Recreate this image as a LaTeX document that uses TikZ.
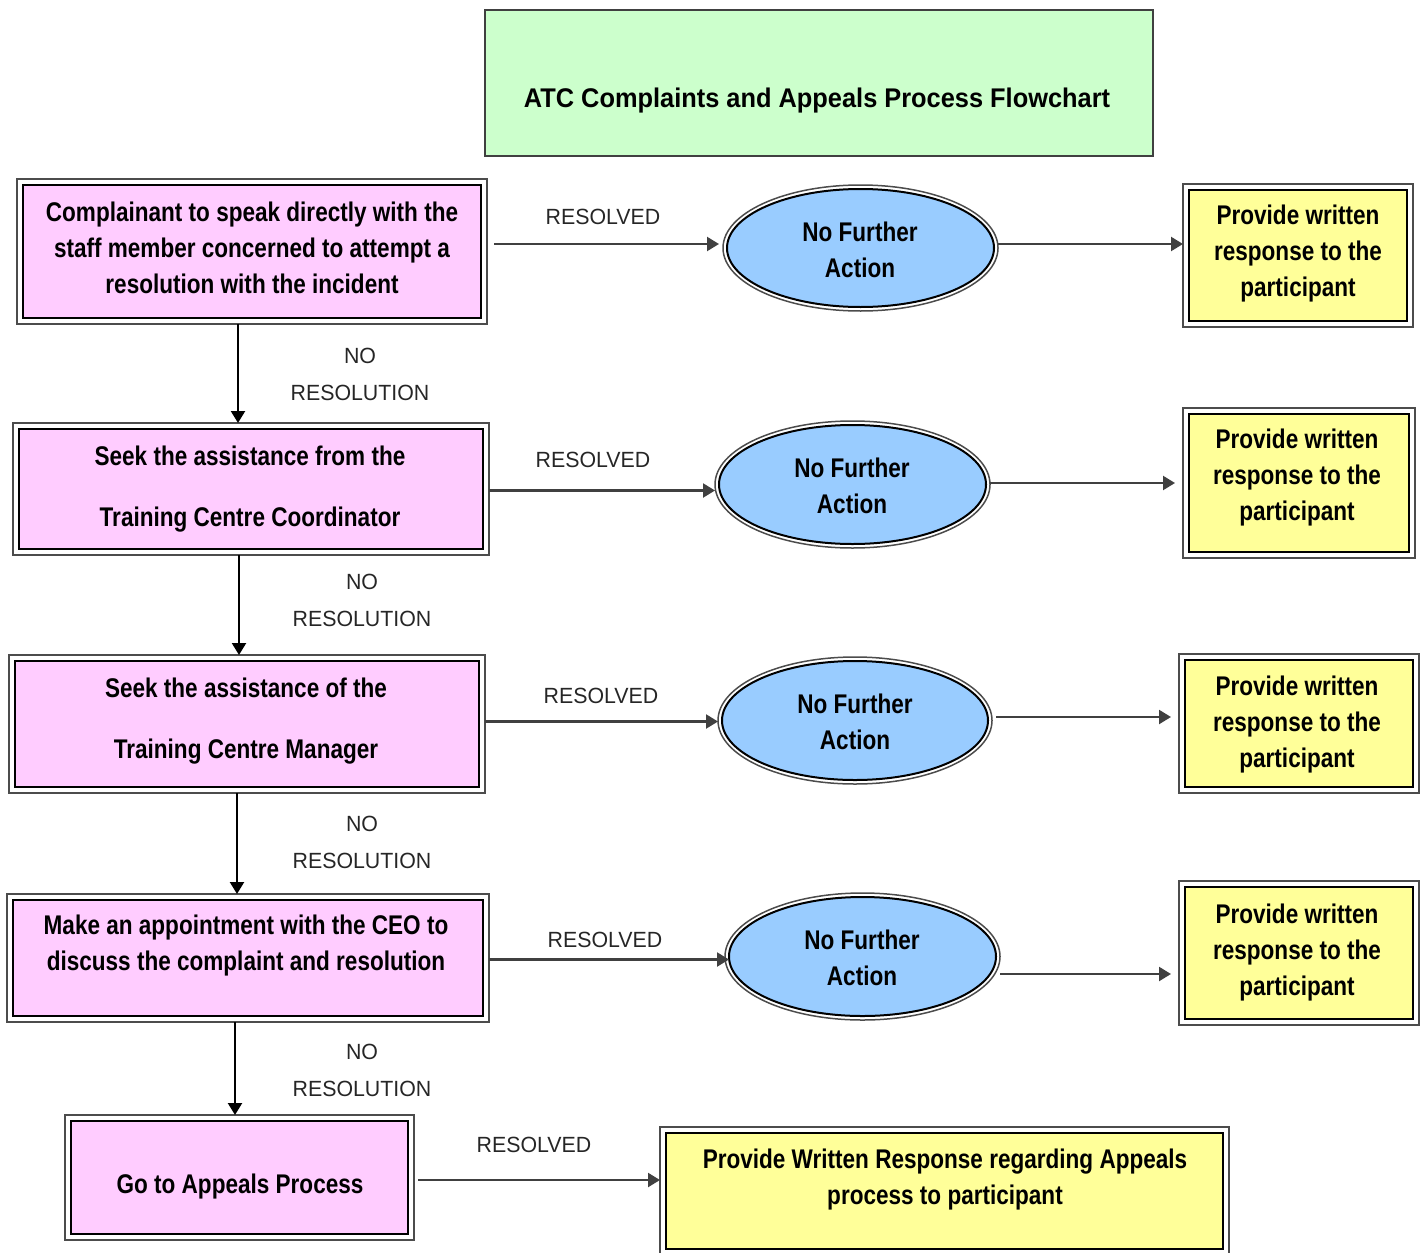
\documentclass[tikz,border=0pt]{standalone}
\usepackage{fontspec}
\setmainfont{Liberation Sans}
\newfontfamily\bodyfont{Liberation Sans Bold}[FakeStretch=0.835]
\newfontfamily\titlefont{Liberation Sans Bold}[FakeStretch=0.94]
\newfontfamily\labelfont{Liberation Sans}[FakeStretch=0.97]
\usetikzlibrary{arrows.meta,shapes.geometric,calc}
\definecolor{pinkfill}{HTML}{FFCCFF}
\definecolor{bluefill}{HTML}{99CCFF}
\definecolor{yellowfill}{HTML}{FFFF99}
\definecolor{greenfill}{HTML}{CCFFCC}
\tikzset{
  frameline/.style={draw=black!70, line width=0.75pt},
  pinkbox/.style={rectangle, draw=black, line width=1.2pt, fill=pinkfill, outer sep=3pt, inner sep=0pt},
  yellowbox/.style={rectangle, draw=black, line width=1.3pt, fill=yellowfill, outer sep=3pt, inner sep=0pt},
  oval/.style={ellipse, draw=black, line width=1pt, fill=bluefill, outer sep=2pt, inner sep=0pt},
  titlebox/.style={rectangle, draw=black!75, line width=0.8pt, fill=greenfill, inner sep=0pt},
  titletext/.style={font=\titlefont\fontsize{13.5}{16}\selectfont, inner sep=0pt},
  bodytext/.style={font=\bodyfont\fontsize{13.5}{18}\selectfont, align=center, inner sep=0pt},
  lbl/.style={font=\labelfont\fontsize{11}{18.5}\selectfont, text=black!85, align=center, inner sep=0pt},
  arr/.style={draw=black!75, line width=1.1pt, -{Triangle[length=6pt,width=7pt]}},
}
\newcommand\framedbox[6]{%
  \node[#1, minimum width=#5*0.5pt, minimum height=#6*0.5pt] (#2) at (#3,#4) {};
  \draw[frameline] (#2.north west) rectangle (#2.south east);
}
\newcommand\framedoval[5]{%
  \node[oval, minimum width=#4*0.5pt, minimum height=#5*0.5pt] (#1) at (#2,#3) {};
  \draw[frameline] (#1.center) ellipse [x radius=#4*0.25pt+2pt, y radius=#5*0.25pt+2pt];
}
\begin{document}
\begin{tikzpicture}[x=0.5pt,y=-0.5pt]
\useasboundingbox (0,0) rectangle (1423,1252);

% title
\node[titlebox, minimum width=334pt, minimum height=73pt] (title) at (819,83) {};
\node[titletext] (titlet) at (817,101) {ATC Complaints and Appeals Process Flowchart};

% left column
\framedbox{pinkbox}{b1}{252}{251.5}{458}{133}
\node[bodytext] (t1) at (252,248) {Complainant to speak directly with the\\staff member concerned to attempt a\\resolution with the incident};
\framedbox{pinkbox}{b2}{251}{489}{464}{120}
\node[bodytext] (t2) at (250,489.5) {Seek the assistance from the\\[12.5pt]Training Centre Coordinator};
\framedbox{pinkbox}{b3}{247}{724}{464}{126}
\node[bodytext] (t3) at (246,721.5) {Seek the assistance of the\\[12.5pt]Training Centre Manager};
\framedbox{pinkbox}{b4}{248}{958}{470}{116}
\node[bodytext] (t4) at (246,946) {Make an appointment with the CEO to\\discuss the complaint and resolution};
\framedbox{pinkbox}{b5}{239.5}{1177.5}{337}{113}
\node[bodytext] (t5) at (240,1187) {Go to Appeals Process};

% ovals
\framedoval{e1}{860.5}{248}{267}{118}
\node[bodytext] (n1) at (860,250) {No Further\\Action};
\framedoval{e2}{852.5}{484.5}{267}{119}
\node[bodytext] (n2) at (852,486) {No Further\\Action};
\framedoval{e3}{855}{720.5}{266}{119}
\node[bodytext] (n3) at (855,722) {No Further\\Action};
\framedoval{e4}{862.5}{956.5}{267}{119}
\node[bodytext] (n4) at (862,958) {No Further\\Action};

% right column
\framedbox{yellowbox}{y1}{1298}{255.5}{218}{131}
\node[bodytext] (u1) at (1298,254) {Provide written\\response to the\\participant};
\framedbox{yellowbox}{y2}{1299}{483}{220}{138}
\node[bodytext] (u2) at (1297,478) {Provide written\\response to the\\participant};
\framedbox{yellowbox}{y3}{1299}{723.5}{228}{127}
\node[bodytext] (u3) at (1297,724.5) {Provide written\\response to the\\participant};
\framedbox{yellowbox}{y4}{1299}{953}{228}{132}
\node[bodytext] (u4) at (1297,952.5) {Provide written\\response to the\\participant};
\framedbox{yellowbox}{y5}{944.5}{1191}{557}{116}
\node[bodytext] (u5) at (945,1180) {Provide Written Response regarding Appeals\\process to participant};

% labels
\node[lbl] (r1) at (603,217) {RESOLVED};
\node[lbl] (r2) at (593,460) {RESOLVED};
\node[lbl] (r3) at (601,696) {RESOLVED};
\node[lbl] (r4) at (605,940) {RESOLVED};
\node[lbl] (r5) at (534,1145) {RESOLVED};
\node[lbl] (nr1) at (360,374.5) {NO\\RESOLUTION};
\node[lbl] (nr2) at (362,600.5) {NO\\RESOLUTION};
\node[lbl] (nr3) at (362,842.5) {NO\\RESOLUTION};
\node[lbl] (nr4) at (362,1070) {NO\\RESOLUTION};

% horizontal arrows: box -> oval
\draw[arr] ([xshift=3.5pt,yshift=2pt]b1.east |- e1.west) -- ([xshift=-2pt,yshift=2pt]e1.west);
\draw[arr] ([yshift=-3pt]b2.east |- e2.west) -- ([yshift=-3pt]e2.west);
\draw[arr] ([yshift=-0.5pt]b3.east |- e3.west) -- ([yshift=-0.5pt]e3.west);
\draw[arr] ([yshift=-1.5pt]b4.east |- e4.west) -- ([xshift=2pt,yshift=-1.5pt]e4.west);
\draw[arr] ([xshift=2pt,yshift=5.5pt]b5.east |- y5.west) -- ([yshift=5.5pt]y5.west);
% oval -> yellow
\draw[arr] ([yshift=2pt]e1.east) -- ([yshift=2pt]e1.east -| y1.west);
\draw[arr, shorten >=4pt] ([yshift=0.75pt]e2.east) -- ([yshift=0.75pt]e2.east -| y2.west);
\draw[arr, shorten >=4pt] ([xshift=2pt,yshift=1.75pt]e3.east) -- ([yshift=1.75pt]e3.east -| y3.west);
\draw[arr, shorten >=4pt] ([yshift=-8.75pt]e4.east) -- ([yshift=-8.75pt]e4.east -| y4.west);
% vertical arrows
\draw[arr, draw=black] ([xshift=-7pt]b1.south) -- ([xshift=-7pt]b1.south |- b2.north);
\draw[arr, draw=black] ([xshift=-6pt]b2.south) -- ([xshift=-6pt]b2.south |- b3.north);
\draw[arr, draw=black] ([xshift=-5pt]b3.south) -- ([xshift=-5pt]b3.south |- b4.north);
\draw[arr, draw=black] ([xshift=-6.5pt]b4.south) -- ([xshift=-6.5pt]b4.south |- b5.north);
\end{tikzpicture}
\end{document}
